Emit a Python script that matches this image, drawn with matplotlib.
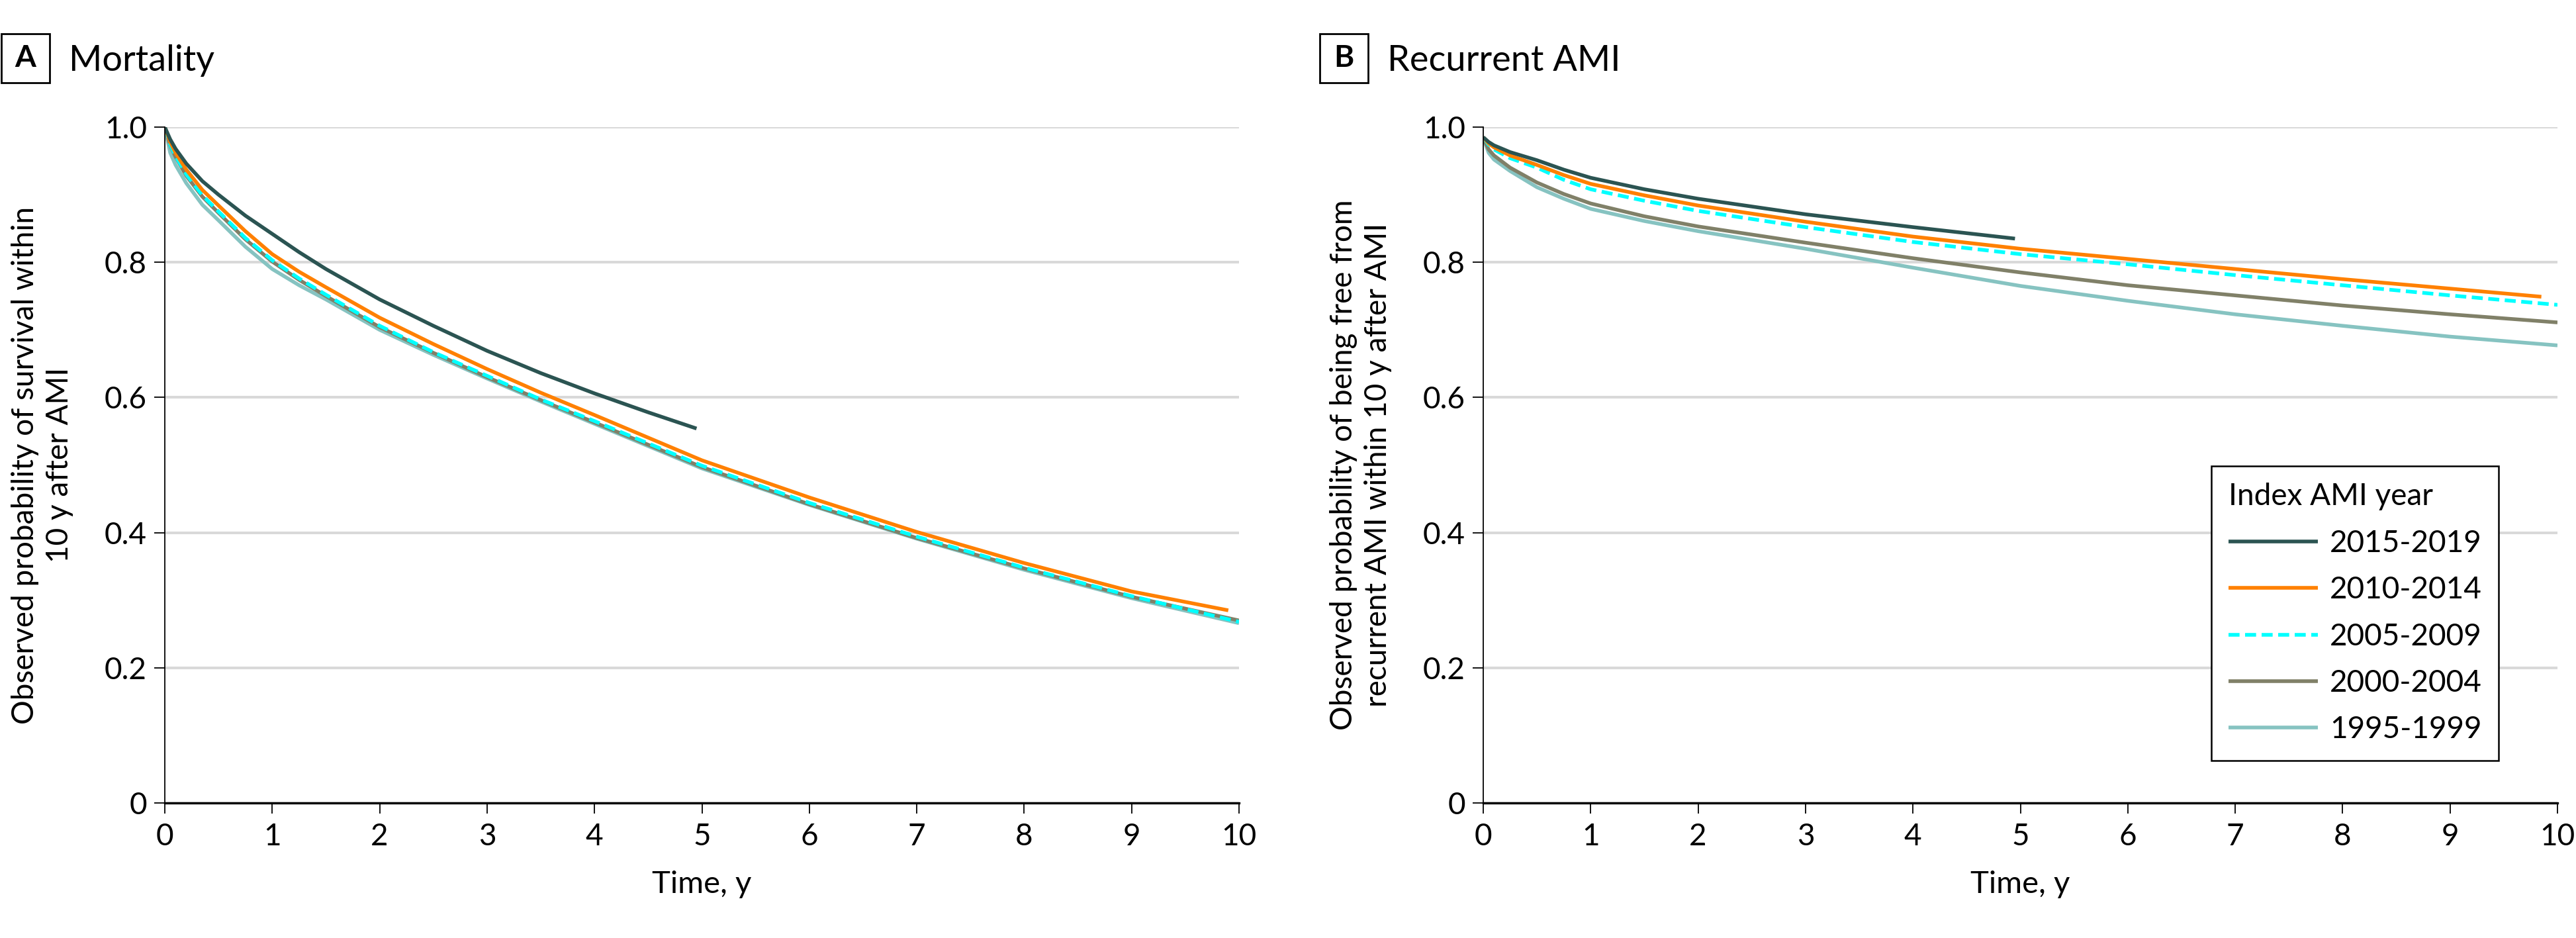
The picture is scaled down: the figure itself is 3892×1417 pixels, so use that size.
import numpy as np
import matplotlib
matplotlib.use('Agg')
import matplotlib.pyplot as plt
from matplotlib.patches import Rectangle

plt.rcParams['font.family'] = ['Lato', 'DejaVu Sans']

# ---- data ----
periods = ['2015-2019', '2010-2014', '2005-2009', '2000-2004', '1995-1999']
colors = ['#2b5452', '#ff8000', '#00ffff', '#808068', '#86c3c1']
styles = ['-', '-', '--', '-', '-']

# panel A: survival
tA_short = [0, 0.05, 0.1, 0.2, 0.35, 0.5, 0.75, 1, 1.25, 1.5, 2, 2.5, 3, 3.5, 4, 4.5, 4.95]
tA_long = [0, 0.05, 0.1, 0.2, 0.35, 0.5, 0.75, 1, 1.25, 1.5, 2, 2.5, 3, 3.5, 4, 5, 6, 7, 8, 9, 10]
tA_orange = [0, 0.05, 0.1, 0.2, 0.35, 0.5, 0.75, 1, 1.25, 1.5, 2, 2.5, 3, 3.5, 4, 5, 6, 7, 8, 9, 9.9]
surv_2015 = [1.0, 0.982, 0.968, 0.946, 0.92, 0.90, 0.869, 0.842, 0.815, 0.79, 0.745, 0.706,
             0.669, 0.636, 0.606, 0.578, 0.554]
surv_2010 = [1.0, 0.978, 0.962, 0.937, 0.907, 0.884, 0.846, 0.812, 0.786, 0.763, 0.718, 0.679,
             0.642, 0.607, 0.574, 0.507, 0.452, 0.401, 0.355, 0.313, 0.285]
surv_2005 = [1.0, 0.974, 0.957, 0.930, 0.899, 0.875, 0.836, 0.803, 0.776, 0.752, 0.706, 0.667,
             0.632, 0.597, 0.565, 0.499, 0.444, 0.394, 0.348, 0.306, 0.268]
surv_2000 = [1.0, 0.973, 0.956, 0.928, 0.897, 0.873, 0.834, 0.801, 0.774, 0.750, 0.704, 0.666,
             0.630, 0.596, 0.563, 0.497, 0.442, 0.392, 0.347, 0.305, 0.270]
surv_1995 = [1.0, 0.962, 0.944, 0.917, 0.885, 0.862, 0.823, 0.790, 0.766, 0.745, 0.700, 0.663,
             0.628, 0.594, 0.561, 0.495, 0.441, 0.391, 0.345, 0.303, 0.266]

# panel B: free from recurrent AMI
tB_short = [0, 0.05, 0.1, 0.25, 0.5, 0.75, 1, 1.5, 2, 3, 4, 4.95]
tB_long = [0, 0.05, 0.1, 0.25, 0.5, 0.75, 1, 1.5, 2, 3, 4, 5, 6, 7, 8, 9, 10]
tB_orange = [0, 0.05, 0.1, 0.25, 0.5, 0.75, 1, 1.5, 2, 3, 4, 5, 6, 7, 8, 9, 9.85]
free_2015 = [0.985, 0.978, 0.973, 0.963, 0.951, 0.937, 0.925, 0.908, 0.894, 0.871, 0.852, 0.835]
free_2010 = [0.985, 0.976, 0.970, 0.958, 0.944, 0.929, 0.916, 0.899, 0.884, 0.860, 0.838,
             0.820, 0.805, 0.790, 0.775, 0.761, 0.749]
free_2005 = [0.985, 0.974, 0.967, 0.954, 0.940, 0.922, 0.908, 0.891, 0.876, 0.852, 0.830,
             0.812, 0.797, 0.781, 0.766, 0.751, 0.737]
free_2000 = [0.984, 0.967, 0.958, 0.940, 0.918, 0.901, 0.887, 0.868, 0.853, 0.829, 0.806,
             0.785, 0.766, 0.751, 0.736, 0.723, 0.711]
free_1995 = [0.984, 0.962, 0.952, 0.935, 0.911, 0.894, 0.879, 0.861, 0.846, 0.820, 0.792,
             0.765, 0.743, 0.723, 0.706, 0.690, 0.677]

seriesA = [(tA_short, surv_2015), (tA_orange, surv_2010), (tA_long, surv_2005),
           (tA_long, surv_2000), (tA_long, surv_1995)]
seriesB = [(tB_short, free_2015), (tB_orange, free_2010), (tB_long, free_2005),
           (tB_long, free_2000), (tB_long, free_1995)]

xticks = list(range(0, 11))
yticks = [0, 0.2, 0.4, 0.6, 0.8, 1.0]
ylabels = ['0', '0.2', '0.4', '0.6', '0.8', '1.0']

W, H = 3892, 1417
fig = plt.figure(figsize=(W / 100, H / 100), dpi=100)

def fx(px):
    return px / W

def fy(py):
    return 1 - py / H

axA = fig.add_axes([fx(249), fy(1213), fx(1623), 1021 / H])
axB = fig.add_axes([fx(2241), fy(1213), fx(1623), 1021 / H])

def style_axis(ax, series, ylab):
    handles = []
    for i in reversed(range(len(series))):
        t, v = series[i]
        ln, = ax.plot(t, v, color=colors[i], lw=4.0, ls=styles[i],
                      dashes=(3, 1.5) if styles[i] == '--' else (None, None),
                      label=periods[i], solid_capstyle='butt',
                      solid_joinstyle='round')
        handles.append(ln)
    ax.set_xlim(0, 10)
    ax.set_ylim(0, 1.0)
    ax.set_xticks(xticks)
    ax.set_yticks(yticks)
    ax.set_yticklabels(ylabels)
    ax.tick_params(axis='both', labelsize=33, direction='out', length=11.5,
                   width=1.3, color='black')
    ax.tick_params(axis='x', pad=10)
    ax.tick_params(axis='y', pad=8)
    ax.grid(axis='y', color='#d9d9d9', lw=2.9)
    ax.grid(axis='x', visible=False)
    ax.set_axisbelow(True)
    for s in ['top', 'right']:
        ax.spines[s].set_visible(False)
    ax.spines['left'].set_linewidth(1.3)
    ax.spines['bottom'].set_linewidth(2.4)
    ax.set_xlabel('Time, y', fontsize=34, labelpad=22)
    ax.set_ylabel(ylab, fontsize=33, linespacing=1.3)
    ax.yaxis.set_label_coords(-0.085, 0.5)
    return handles[::-1]

style_axis(axA, seriesA, 'Observed probability of survival within\n10 y after AMI')
hB = style_axis(axB, seriesB,
                'Observed probability of being free from\nrecurrent AMI within 10 y after AMI')

leg = axB.legend(handles=hB, labels=periods, title='Index AMI year',
                 loc='lower left', bbox_to_anchor=(0.678, 0.063),
                 borderaxespad=0,
                 fontsize=33, title_fontsize=33, handlelength=2.95,
                 handletextpad=0.4, labelspacing=0.62, borderpad=0.55,
                 fancybox=False, edgecolor='black', framealpha=1,
                 alignment='left')
leg.get_frame().set_linewidth(1.8)

# panel tags
for dx, tag, title in [(0, 'A', 'Mortality'), (1992, 'B', 'Recurrent AMI')]:
    fig.patches.append(Rectangle((fx(dx + 2), fy(125)), fx(73), 74 / H,
                                 transform=fig.transFigure, fill=False,
                                 edgecolor='black', lw=2.0))
    fig.text(fx(dx + 38.5), fy(88), tag, fontsize=33, fontweight='bold',
             ha='center', va='center')
    fig.text(fx(dx + 104), fy(107), title, fontsize=39, ha='left',
             va='baseline')

fig.savefig('out.png', dpi=100)
